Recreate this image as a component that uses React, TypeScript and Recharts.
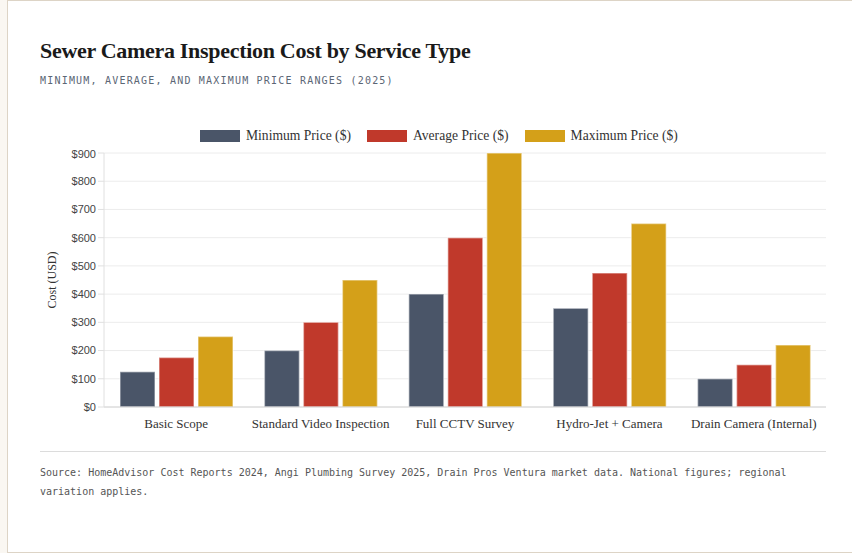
import { BarChart, Bar, XAxis, YAxis, CartesianGrid, Label } from 'recharts'

const categories = [
  'Basic Scope',
  'Standard Video Inspection',
  'Full CCTV Survey',
  'Hydro-Jet + Camera',
  'Drain Camera (Internal)',
]
const minPrices = [125, 200, 400, 350, 100]
const avgPrices = [175, 300, 600, 475, 150]
const maxPrices = [250, 450, 900, 650, 220]
const yTicks = [0, 100, 200, 300, 400, 500, 600, 700, 800, 900]

const SERIES = [
  { key: 'min', name: 'Minimum Price ($)', color: '#4a5568' },
  { key: 'avg', name: 'Average Price ($)', color: '#c0392b' },
  { key: 'max', name: 'Maximum Price ($)', color: '#d4a019' },
]

const data = categories.map((name, i) => ({
  name,
  min: minPrices[i],
  avg: avgPrices[i],
  max: maxPrices[i],
}))

const serif = '"Liberation Serif", "DejaVu Serif", serif'
const mono = '"DejaVu Sans Mono", "Liberation Mono", monospace'

export default function App() {
  return (
    <div style={{ position: 'fixed', inset: 0, background: '#faf7f2', overflow: 'hidden' }}>
      <div
        style={{
          position: 'absolute',
          left: 7,
          top: 0,
          width: 900,
          height: 551,
          background: '#fff',
          border: '1px solid #ddd4c6',
        }}
      />
      <div
        style={{
          position: 'absolute',
          left: 40,
          top: 38,
          fontFamily: serif,
          fontWeight: 700,
          fontSize: 22,
          color: '#1a1a1a',
          letterSpacing: -0.3,
        }}
      >
        Sewer Camera Inspection Cost by Service Type
      </div>
      <div
        style={{
          position: 'absolute',
          left: 40,
          top: 75,
          fontFamily: mono,
          fontSize: 10,
          letterSpacing: 1.2,
          color: '#5b6675',
        }}
      >
        MINIMUM, AVERAGE, AND MAXIMUM PRICE RANGES (2025)
      </div>

      {/* legend */}
      <div
        style={{
          position: 'absolute',
          left: 200,
          top: 128,
          display: 'flex',
          alignItems: 'center',
          fontFamily: serif,
          fontSize: 13.6,
          color: '#333',
        }}
      >
        {SERIES.map((s) => (
          <div key={s.key} style={{ display: 'flex', alignItems: 'center', marginRight: 16 }}>
            <span style={{ width: 40, height: 12, background: s.color, display: 'inline-block', marginRight: 6 }} />
            <span>{s.name}</span>
          </div>
        ))}
      </div>

      <div style={{ position: 'absolute', left: 32, top: 148 }}>
        <BarChart
          width={810}
          height={294}
          data={data}
          margin={{ top: 5, right: 16, bottom: 5, left: 12 }}
          barCategoryGap={16}
          barGap={4}
        >
          <CartesianGrid vertical={false} stroke="#ececec" />
          <XAxis
            dataKey="name"
            tickLine={false}
            axisLine={{ stroke: '#d4d4d4' }}
            tick={{ fontFamily: serif, fontSize: 13, fill: '#333' }}
            tickMargin={6}
            interval={0}
          />
          <YAxis
            width={60}
            domain={[0, 900]}
            ticks={yTicks}
            tickFormatter={(v) => `$${v}`}
            axisLine={{ stroke: '#e0e0e0' }}
            tickLine={{ stroke: '#e0e0e0' }}
            tick={{ fontFamily: '"Liberation Sans", Arial, sans-serif', fontSize: 11, fill: '#444' }}
          >
            <Label
              value="Cost (USD)"
              angle={-90}
              position="insideLeft"
              offset={8}
              style={{ fontFamily: serif, fontSize: 12, fill: '#333', textAnchor: 'middle' }}
            />
          </YAxis>
          {SERIES.map((s) => (
            <Bar
              key={s.key}
              dataKey={s.key}
              name={s.name}
              fill={s.color}
              stroke="rgba(255,255,255,0.45)"
              strokeWidth={1.5}
              isAnimationActive={false}
            />
          ))}
        </BarChart>
      </div>

      <div style={{ position: 'absolute', left: 40, top: 451, width: 786, borderTop: '1px solid #dcdcdc' }} />
      <div
        style={{
          position: 'absolute',
          left: 40,
          top: 463,
          width: 760,
          fontFamily: mono,
          fontSize: 10,
          lineHeight: '19px',
          color: '#555',
        }}
      >
        Source: HomeAdvisor Cost Reports 2024, Angi Plumbing Survey 2025, Drain Pros Ventura market data. National figures; regional variation applies.
      </div>
    </div>
  )
}
